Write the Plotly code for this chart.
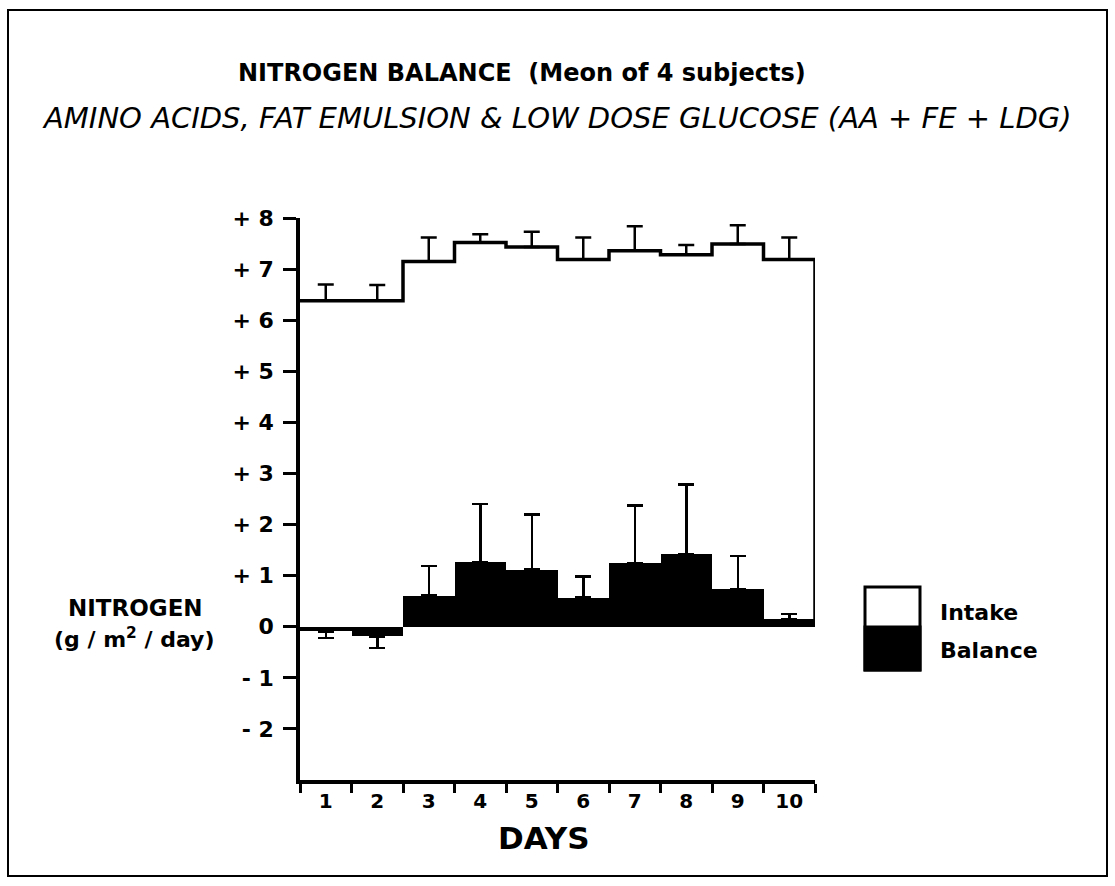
import plotly.graph_objects as go

days = [1, 2, 3, 4, 5, 6, 7, 8, 9, 10]
intake = [6.38, 6.38, 7.15, 7.52, 7.43, 7.19, 7.36, 7.28, 7.49, 7.19]
intake_err = [0.32, 0.31, 0.47, 0.16, 0.30, 0.43, 0.48, 0.19, 0.37, 0.43]
balance = [-0.09, -0.19, 0.61, 1.27, 1.12, 0.57, 1.25, 1.42, 0.74, 0.15]
balance_err = [0.13, 0.23, 0.58, 1.13, 1.08, 0.41, 1.12, 1.36, 0.64, 0.10]
y_ticks = [8, 7, 6, 5, 4, 3, 2, 1, 0, -1, -2]
y_ticklabels = ["+ 8", "+ 7", "+ 6", "+ 5", "+ 4", "+ 3", "+ 2", "+ 1", "0", "- 1", "- 2"]

FONT = "DejaVu Sans"
W, H = 1115, 886
L, R, T, B = 300, 300, 218, 106
PW, PH = W - L - R, H - T - B


def px(x):
    return (x - L) / PW


def py(y):
    return (H - B - y) / PH


fig = go.Figure()

# Balance bars (black, filled)
fig.add_trace(go.Bar(
    x=days, y=balance, width=1, marker=dict(color="black", line=dict(width=0)),
    error_y=dict(type="data", symmetric=False,
                 array=[e if v > 0 else 0 for v, e in zip(balance, balance_err)],
                 arrayminus=[e if v < 0 else 0 for v, e in zip(balance, balance_err)],
                 color="black", thickness=2.5, width=8),
    showlegend=False, hoverinfo="skip"))

# Intake step outline
edges = [d - 0.5 for d in days] + [days[-1] + 0.5]
step_x = edges + [edges[-1]]
step_y = intake + [intake[-1], 0]
fig.add_trace(go.Scatter(
    x=step_x, y=step_y, mode="lines", line=dict(color="black", width=3.5, shape="hv"),
    showlegend=False, hoverinfo="skip"))

# Intake error bars
fig.add_trace(go.Scatter(
    x=days, y=intake, mode="markers", marker=dict(size=1, opacity=0),
    error_y=dict(type="data", symmetric=False, array=intake_err,
                 arrayminus=[0] * len(days), color="black", thickness=2.5, width=8),
    showlegend=False, hoverinfo="skip"))

fig.update_layout(
    width=W, height=H, autosize=False,
    margin=dict(l=L, r=R, t=T, b=B),
    paper_bgcolor="white", plot_bgcolor="white",
    font=dict(family=FONT, color="black"),
    bargap=0,
    xaxis=dict(range=[0.5, 10.5], tickvals=days, ticktext=[str(d) for d in days],
               ticks="", showline=True, linecolor="black", linewidth=3.5,
               showgrid=False, zeroline=False,
               tickfont=dict(size=20, family=FONT, color="black", weight="bold"),
               minor=dict(tick0=0.5, dtick=1, ticks="outside", ticklen=9,
                          tickwidth=2.5, tickcolor="black", showgrid=False)),
    yaxis=dict(range=[-3, 8], tickvals=y_ticks, ticktext=y_ticklabels,
               ticks="outside", ticklen=13, tickwidth=2.5, tickcolor="black",
               ticklabelstandoff=5,
               showline=True, linecolor="black", linewidth=3.5,
               showgrid=False, zeroline=False,
               tickfont=dict(size=22, family=FONT, color="black", weight="bold")),
)

annotations = [
    dict(text="NITROGEN BALANCE  (Meon of 4 subjects)", x=px(522), y=py(73),
         font=dict(size=24, weight="bold")),
    dict(text="<i>AMINO ACIDS, FAT EMULSION &amp; LOW DOSE GLUCOSE (AA + FE + LDG)</i>",
         x=px(557), y=py(118), font=dict(size=29)),
    dict(text="NITROGEN", x=px(135), y=py(608), font=dict(size=23, weight="bold")),
    dict(text="(g / m<sup>2</sup> / day)", x=px(134), y=py(638), font=dict(size=22, weight="bold")),
    dict(text="DAYS", x=px(544), y=py(838), font=dict(size=31, weight="bold")),
    dict(text="Intake", x=px(938), y=py(612), xanchor="left", font=dict(size=22, weight="bold")),
    dict(text="Balance", x=px(938), y=py(650), xanchor="left", font=dict(size=22, weight="bold")),
]
for a in annotations:
    a.setdefault("xanchor", "center")
    a.update(xref="paper", yref="paper", yanchor="middle", showarrow=False)
    a["font"].update(family=FONT, color="black")
fig.update_layout(annotations=annotations)

shapes = [
    dict(type="rect", xref="paper", yref="paper", x0=px(865), x1=px(920),
         y0=py(627), y1=py(670), fillcolor="black", line=dict(color="black", width=3)),
    dict(type="rect", xref="paper", yref="paper", x0=px(865), x1=px(920),
         y0=py(587), y1=py(670), fillcolor="rgba(0,0,0,0)", line=dict(color="black", width=3)),
    dict(type="rect", xref="paper", yref="paper", x0=px(8), x1=px(1107),
         y0=py(876), y1=py(10), fillcolor="rgba(0,0,0,0)", line=dict(color="black", width=2)),
]
fig.update_layout(shapes=shapes)

fig.write_html("out.html")
